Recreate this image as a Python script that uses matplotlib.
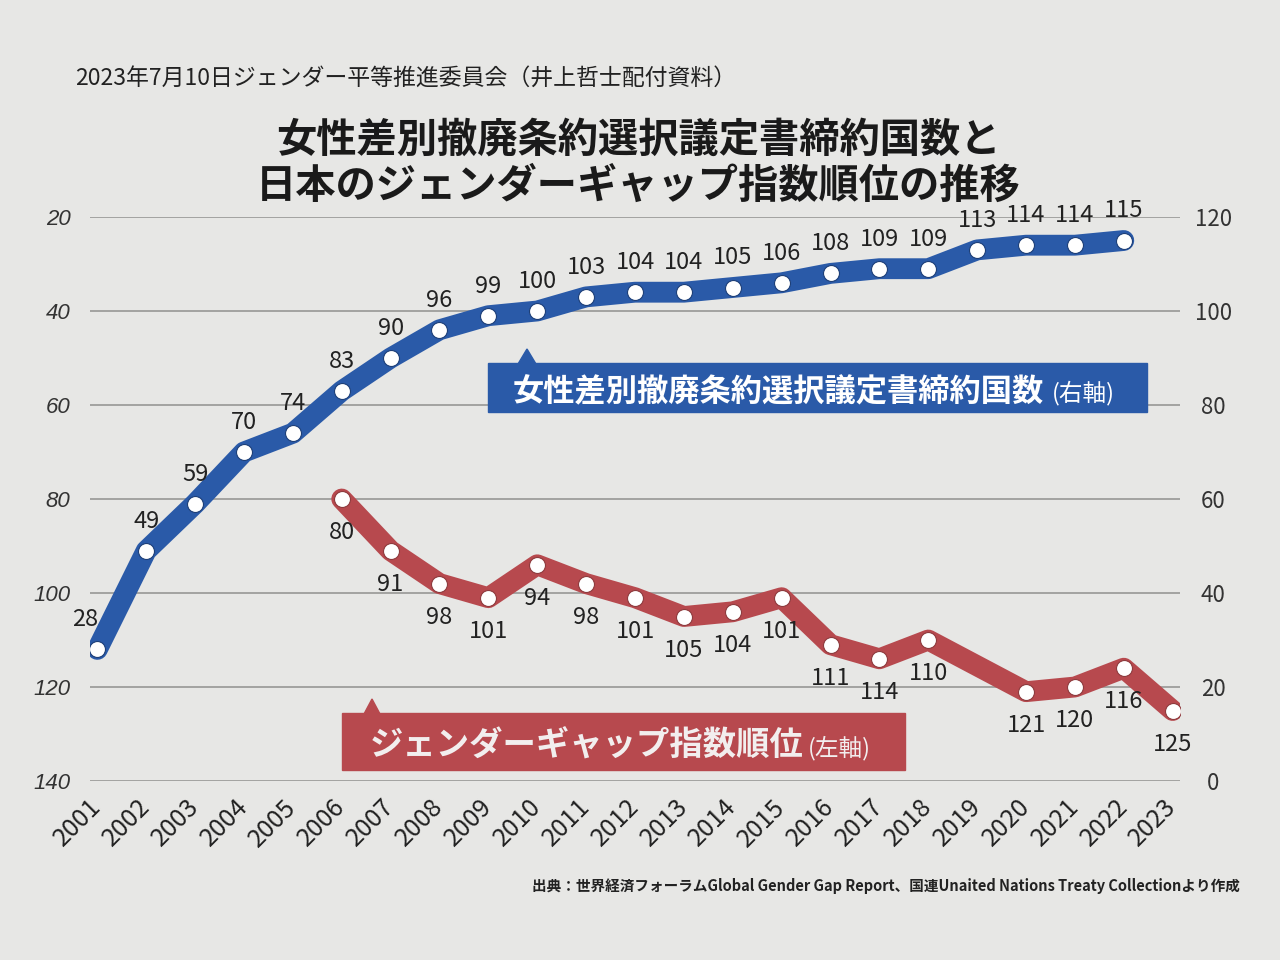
import matplotlib
matplotlib.use('Agg')
import matplotlib.pyplot as plt
from matplotlib.patches import Rectangle, Polygon

plt.rcParams['font.family'] = ['Noto Sans CJK JP', 'DejaVu Sans']

# data
years = list(range(2001, 2024))
treaty_years = list(range(2001, 2023))
treaty_counts = [28, 49, 59, 70, 74, 83, 90, 96, 99, 100, 103, 104, 104, 105,
                 106, 108, 109, 109, 113, 114, 114, 115]
gap_years = [2006, 2007, 2008, 2009, 2010, 2011, 2012, 2013, 2014, 2015,
             2016, 2017, 2018, 2020, 2021, 2022, 2023]
gap_ranks = [80, 91, 98, 101, 94, 98, 101, 105, 104, 101, 111, 114, 110,
             121, 120, 116, 125]
left_ticks = [20, 40, 60, 80, 100, 120, 140]
right_ticks = [0, 20, 40, 60, 80, 100, 120]

header = '2023年7月10日ジェンダー平等推進委員会（井上哲士配付資料）'
title = '女性差別撤廃条約選択議定書締約国数と\n日本のジェンダーギャップ指数順位の推移'
blue_label = '女性差別撤廃条約選択議定書締約国数'
red_label = 'ジェンダーギャップ指数順位'
source = '出典：世界経済フォーラムGlobal Gender Gap Report、国連Unaited Nations Treaty Collectionより作成'

blue = '#2a5aa8'
red = '#b7494e'
bg = '#e7e7e5'
W, H = 1280, 960


def fx(x):
    return x / W


def fy(y):
    return 1 - y / H


fig = plt.figure(figsize=(12.8, 9.6), dpi=100, facecolor=bg)
ax = fig.add_axes([fx(90), fy(781), fx(1090), 564 / H])
ax.set_facecolor('none')
ax2 = ax.twinx()
ax2.patch.set_visible(False)

for a in (ax, ax2):
    for s in a.spines.values():
        s.set_visible(False)

ax.set_xlim(2000.85, 2023.15)
ax.set_ylim(140, 20)
ax2.set_ylim(0, 120)
ax.set_yticks(left_ticks)
ax2.set_yticks(right_ticks)
ax.yaxis.grid(True, color='#9d9d9b', lw=1.3)
ax.set_axisbelow(True)

ax.set_xticks(years)
ax.set_xticklabels([str(y) for y in years], rotation=45, ha='right',
                   va='center', rotation_mode='anchor', fontsize=18,
                   color='#222222')
ax.tick_params(axis='x', length=0, pad=16)
ax.tick_params(axis='y', length=0, pad=14, labelsize=16, labelcolor='#333333')
for lbl in ax.get_yticklabels():
    lbl.set_family('Liberation Sans')
    lbl.set_style('italic')
ax2.tick_params(axis='y', length=0, pad=24, labelsize=16, labelcolor='#333333')
for lbl in ax2.get_yticklabels():
    lbl.set_ha('center')

# gender gap rank (left axis)
ax.plot(gap_years, gap_ranks, color=red, lw=15, solid_joinstyle='round',
        solid_capstyle='round', zorder=3)
ax.plot(gap_years, gap_ranks, 'o', ms=11.5, mfc='white', mec='#8e3a3d',
        mew=0.8, zorder=4)
for x, v in zip(gap_years, gap_ranks):
    ax.annotate(str(v), (x, v), xytext=(0, -16), textcoords='offset points',
                ha='center', va='top', fontsize=17, color='#222222')

# treaty parties (right axis)
ax2.plot(treaty_years, treaty_counts, color=blue, lw=15, solid_joinstyle='round',
         solid_capstyle='round', zorder=3)
ax2.plot(treaty_years, treaty_counts, 'o', ms=11.5, mfc='white', mec='#1d3f78',
         mew=0.8, zorder=4)
for i, (x, v) in enumerate(zip(treaty_years, treaty_counts)):
    dx = -9 if i == 0 else 0
    ax2.annotate(str(v), (x, v), xytext=(dx, 13), textcoords='offset points',
                 ha='center', va='bottom', fontsize=17, color='#222222')

# series boxes
fig.add_artist(Rectangle((fx(488), fy(412)), fx(659), 49 / H, color=blue,
                         transform=fig.transFigure, zorder=5))
fig.add_artist(Polygon([(fx(518), fy(364)), (fx(536), fy(364)), (fx(527), fy(349))],
                       closed=True, color=blue, transform=fig.transFigure, zorder=5))
fig.text(fx(513), fy(389), blue_label, ha='left', va='center_baseline',
         fontsize=22.5, weight='bold', color='white', zorder=6)
fig.text(fx(1052), fy(391), '(右軸)', ha='left', va='center_baseline',
         fontsize=17, color='white', zorder=6)

fig.add_artist(Rectangle((fx(342), fy(770)), fx(563), 57 / H, color=red,
                         transform=fig.transFigure, zorder=5))
fig.add_artist(Polygon([(fx(364), fy(714)), (fx(380), fy(714)), (fx(372), fy(699))],
                       closed=True, color=red, transform=fig.transFigure, zorder=5))
fig.text(fx(370), fy(743), red_label, ha='left', va='center_baseline',
         fontsize=24, weight='bold', color='#f2eeee', zorder=6)
fig.text(fx(808), fy(746), '(左軸)', ha='left', va='center_baseline',
         fontsize=17, color='#f2eeee', zorder=6)

# header, title, source
fig.text(fx(75), fy(78), header, ha='left', va='center', fontsize=16.5,
         color='#222222')
fig.text(fx(638), fy(163), title, ha='center', va='center', fontsize=29,
         weight='bold', color='#1a1a1a', linespacing=1.15)
fig.text(fx(1240), fy(886), source, ha='right', va='center', fontsize=10.5,
         weight='bold', color='#222222')

fig.savefig('out.png', dpi=100, facecolor=bg)
